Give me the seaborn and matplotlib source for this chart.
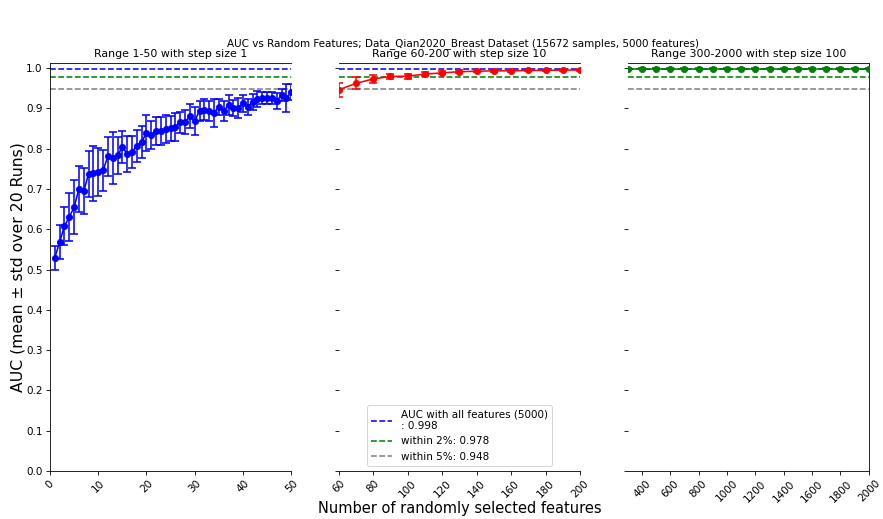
import matplotlib
matplotlib.use("Agg")
import matplotlib.pyplot as plt
import seaborn as sns

# Feature-count ranges and the AUC (mean, std over 20 runs) measured for each
sizes_small = list(range(1, 51))
auc_small = [0.529, 0.568, 0.608, 0.630, 0.655, 0.700, 0.694, 0.738, 0.739, 0.742,
             0.746, 0.781, 0.777, 0.783, 0.804, 0.787, 0.792, 0.807, 0.817, 0.839,
             0.834, 0.844, 0.844, 0.848, 0.850, 0.854, 0.865, 0.866, 0.880, 0.869,
             0.894, 0.897, 0.894, 0.889, 0.904, 0.894, 0.908, 0.900, 0.900, 0.912,
             0.904, 0.916, 0.923, 0.926, 0.926, 0.925, 0.919, 0.933, 0.926, 0.940]
std_small = [0.029, 0.043, 0.048, 0.060, 0.066, 0.058, 0.057, 0.057, 0.068, 0.060,
             0.050, 0.048, 0.065, 0.045, 0.040, 0.045, 0.040, 0.040, 0.040, 0.045,
             0.035, 0.035, 0.035, 0.035, 0.030, 0.035, 0.025, 0.030, 0.030, 0.035,
             0.025, 0.025, 0.025, 0.035, 0.020, 0.025, 0.025, 0.020, 0.025, 0.020,
             0.020, 0.020, 0.020, 0.015, 0.015, 0.015, 0.020, 0.015, 0.035, 0.020]

sizes_mid = list(range(60, 201, 10))
auc_mid = [0.946, 0.962, 0.973, 0.979, 0.980, 0.985, 0.988, 0.991, 0.992, 0.993,
           0.993, 0.994, 0.994, 0.995, 0.995]
std_mid = [0.018, 0.015, 0.009, 0.007, 0.006, 0.004, 0.004, 0.003, 0.003, 0.003,
           0.002, 0.002, 0.002, 0.002, 0.002]

sizes_large = list(range(300, 2001, 100))
auc_large = [0.998, 0.998, 0.998, 0.998, 0.998, 0.998, 0.998, 0.998, 0.998,
             0.998, 0.998, 0.998, 0.998, 0.998, 0.998, 0.998, 0.998, 0.998]
std_large = [0.002, 0.001, 0.001, 0.001, 0.001, 0.001, 0.001, 0.001, 0.001,
             0.001, 0.001, 0.001, 0.001, 0.001, 0.001, 0.001, 0.001, 0.001]

auc_all = 0.998
within_2 = 0.978
within_5 = 0.948

panel_titles = ["Range 1-50 with step size 1",
                "Range 60-200 with step size 10",
                "Range 300-2000 with step size 100"]
panel_colors = ["blue", "red", "green"]
panel_xlims = [(0, 50), (60, 200), (300, 2000)]
panel_xticks = [list(range(0, 51, 10)), list(range(60, 201, 20)), list(range(400, 2001, 200))]

fig, axes = plt.subplots(1, 3, sharey=True, figsize=(883 / 75, 519 / 75), dpi=75)
fig.subplots_adjust(left=0.0566, right=0.984, top=1 - 63 / 519, bottom=1 - 471 / 519,
                    wspace=0.197)

series = [(sizes_small, auc_small, std_small),
          (sizes_mid, auc_mid, std_mid),
          (sizes_large, auc_large, std_large)]

for i, (ax, (xs, ys, es)) in enumerate(zip(axes, series)):
    col = panel_colors[i]
    ax.errorbar(xs, ys, yerr=es, fmt="none", ecolor=col, capsize=4, elinewidth=1.5,
                capthick=1.5, zorder=2)
    sns.lineplot(x=xs, y=ys, ax=ax, color=col, marker="o", markersize=6,
                 markeredgecolor=col, linewidth=1.5, zorder=3)
    ax.axhline(auc_all, color="blue", linestyle="--", linewidth=1.5,
               label=f"AUC with all features (5000)\n: {auc_all}", zorder=1)
    ax.axhline(within_2, color="green", linestyle="--", linewidth=1.5,
               label=f"within 2%: {within_2}", zorder=1)
    ax.axhline(within_5, color="gray", linestyle="--", linewidth=1.5,
               label=f"within 5%: {within_5}", zorder=1)
    ax.set_xlim(*panel_xlims[i])
    ax.set_xticks(panel_xticks[i])
    ax.tick_params(axis="x", labelrotation=45)
    ax.set_title(panel_titles[i], fontsize=10.5)

axes[0].set_ylim(0, 1.0125)
axes[0].set_yticks([k / 10 for k in range(11)])

axes[0].spines["right"].set_visible(False)
axes[1].spines["left"].set_visible(False)
axes[1].spines["right"].set_visible(False)
axes[2].spines["left"].set_visible(False)

axes[1].legend(loc="lower center", fontsize=10)

axes[0].set_ylabel("AUC (mean \u00b1 std over 20 Runs)", fontsize=15)
axes[0].yaxis.set_label_coords(-0.10, 0.5)
fig.text(0.521, 0.021, "Number of randomly selected features", ha="center",
         va="center", fontsize=14)
fig.suptitle("AUC vs Random Features; Data_Qian2020_Breast Dataset "
             "(15672 samples, 5000 features)", fontsize=10, x=0.524,
             y=1 - 44 / 519, va="center")

fig.savefig("out.png", dpi=75)
